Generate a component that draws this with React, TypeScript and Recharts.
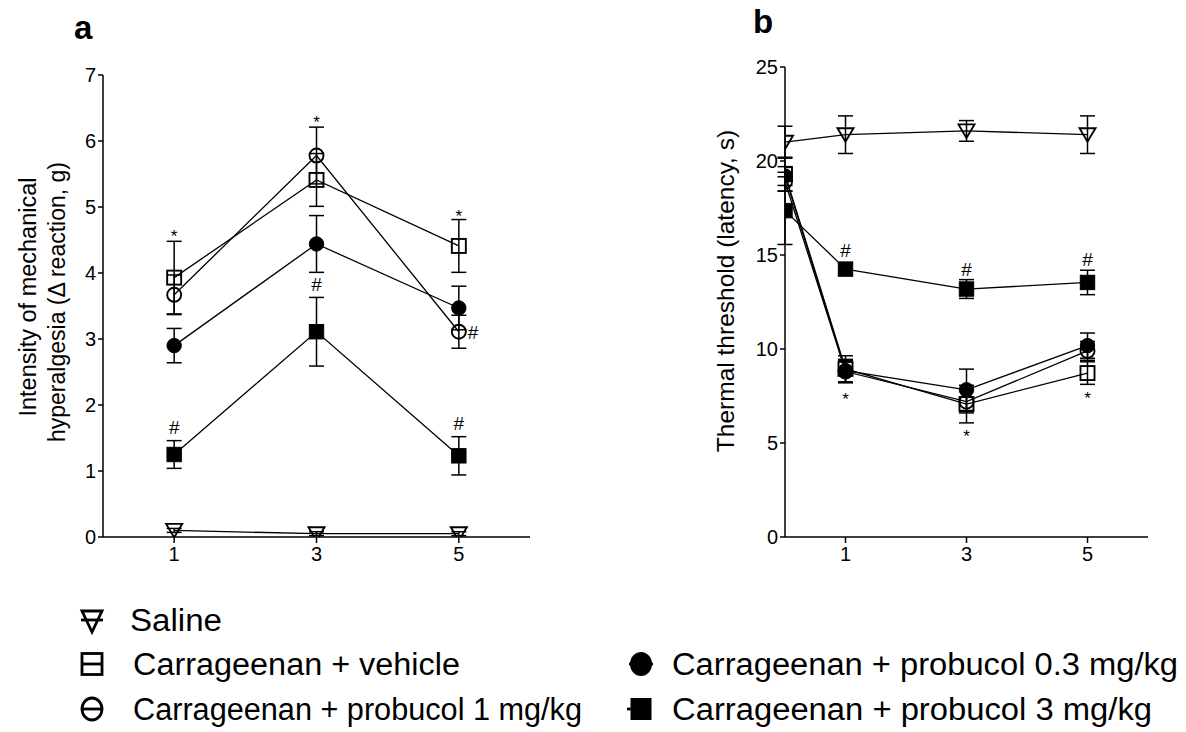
import React from 'react';
import { LineChart, Line, XAxis, YAxis, ErrorBar, ReferenceDot } from 'recharts';

// ---------- Panel a data (mechanical hyperalgesia) ----------
const timesA = [1, 3, 5];
const salineA = [0.1, 0.05, 0.05];
const salineAErr = [0.03, 0.03, 0.03];
const vehicleA = [3.93, 5.41, 4.41];
const vehicleAErr = [0.55, 0.4, 0.4];
const prob1A = [3.67, 5.78, 3.11];
const prob1AErr = [0.3, 0.43, 0.25];
const prob03A = [2.9, 4.44, 3.47];
const prob03AErr = [0.26, 0.43, 0.33];
const prob3A = [1.25, 3.11, 1.23];
const prob3AErr = [0.21, 0.52, 0.29];

// ---------- Panel b data (thermal threshold) ----------
const timesB = [0, 1, 3, 5];
const salineB = [21.0, 21.4, 21.6, 21.4];
const salineBErr = [0.85, 1.0, 0.55, 1.0];
const vehicleB = [19.3, 8.94, 7.07, 8.72];
const vehicleBErr = [0.9, 0.7, 1.0, 0.6];
const prob1B = [18.9, 8.8, 7.2, 9.9];
const prob1BErr = [0.5, 0.6, 0.6, 0.5];
const prob03B = [19.2, 8.85, 7.83, 10.18];
const prob03BErr = [0.5, 0.6, 1.1, 0.67];
const prob3B = [17.36, 14.25, 13.19, 13.54];
const prob3BErr = [1.8, 0.3, 0.5, 0.65];

// ---------- ticks ----------
const xTicks = [1, 3, 5];
const yTicksA = [0, 1, 2, 3, 4, 5, 6, 7];
const yTicksB = [0, 5, 10, 15, 20, 25];

// ---------- significance marks ----------
const marksA = [
  { x: 1, y: 4.63, t: '*' },
  { x: 3, y: 6.36, t: '*' },
  { x: 5, y: 4.93, t: '*' },
  { x: 3, y: 3.83, t: '#' },
  { x: 1, y: 1.66, t: '#' },
  { x: 5, y: 1.72, t: '#' },
  { x: 5.2, y: 3.11, t: '#' },
];
const marksB = [
  { x: 1, y: 15.24, t: '#' },
  { x: 3, y: 14.27, t: '#' },
  { x: 5, y: 14.8, t: '#' },
  { x: 1, y: 7.57, t: '*' },
  { x: 3, y: 5.62, t: '*' },
  { x: 5, y: 7.66, t: '*' },
];

// ---------- legend ----------
const legendLabels = [
  'Saline',
  'Carrageenan + vehicle',
  'Carrageenan + probucol 1 mg/kg',
  'Carrageenan + probucol 0.3 mg/kg',
  'Carrageenan + probucol 3 mg/kg',
];

const FONT = '"Liberation Sans", Arial, Helvetica, sans-serif';

type Kind = 'tri' | 'osq' | 'ocir' | 'fcir' | 'fsq';

function Marker({ kind, cx, cy, s = 1 }: { kind: Kind; cx: number; cy: number; s?: number }) {
  if (cx == null || cy == null || isNaN(cx) || isNaN(cy)) return null;
  const sw = 1.9;
  switch (kind) {
    case 'tri':
      return (
        <polygon
          points={`${cx - 8 * s},${cy - 6.5 * s} ${cx + 8 * s},${cy - 6.5 * s} ${cx},${cy + 7 * s}`}
          fill="none"
          stroke="#000"
          strokeWidth={sw}
        />
      );
    case 'osq':
      return <rect x={cx - 7 * s} y={cy - 7 * s} width={14 * s} height={14 * s} fill="none" stroke="#000" strokeWidth={sw} />;
    case 'ocir':
      return <circle cx={cx} cy={cy} r={7 * s} fill="none" stroke="#000" strokeWidth={sw} />;
    case 'fcir':
      return <circle cx={cx} cy={cy} r={7.2 * s} fill="#000" stroke="#000" strokeWidth={1} />;
    case 'fsq':
      return <rect x={cx - 7.2 * s} y={cy - 7.2 * s} width={14.4 * s} height={14.4 * s} fill="#000" stroke="#000" strokeWidth={1} />;
  }
  return null;
}

const mk = (xs: number[], ys: number[], es: number[]) => xs.map((x, i) => ({ x, y: ys[i], e: es[i] }));

const seriesA: { name: string; kind: Kind; data: any[] }[] = [
  { name: 'saline', kind: 'tri', data: mk(timesA, salineA, salineAErr) },
  { name: 'vehicle', kind: 'osq', data: mk(timesA, vehicleA, vehicleAErr) },
  { name: 'p1', kind: 'ocir', data: mk(timesA, prob1A, prob1AErr) },
  { name: 'p03', kind: 'fcir', data: mk(timesA, prob03A, prob03AErr) },
  { name: 'p3', kind: 'fsq', data: mk(timesA, prob3A, prob3AErr) },
];
const seriesB: { name: string; kind: Kind; data: any[] }[] = [
  { name: 'saline', kind: 'tri', data: mk(timesB, salineB, salineBErr) },
  { name: 'vehicle', kind: 'osq', data: mk(timesB, vehicleB, vehicleBErr) },
  { name: 'p1', kind: 'ocir', data: mk(timesB, prob1B, prob1BErr) },
  { name: 'p03', kind: 'fcir', data: mk(timesB, prob03B, prob03BErr) },
  { name: 'p3', kind: 'fsq', data: mk(timesB, prob3B, prob3BErr) },
];

const tickStyle = { fill: '#000', fontSize: 20, fontFamily: FONT };
const axisStroke = { stroke: '#000', strokeWidth: 1.5 };

function markShape(t: string) {
  return (p: any) => {
    const fs = t === '*' ? 17 : 19;
    const off = t === '*' ? 0.62 * fs : 0.36 * fs;
    return (
      <text x={p.cx} y={p.cy + off} textAnchor="middle" fontSize={fs} fontFamily={FONT} fill="#000">
        {t}
      </text>
    );
  };
}

function Panel({ series, yDomain, yTicks, marks, yAxisWidth, top, plotW, plotH, right }: any) {
  const width = yAxisWidth + plotW + right;
  const height = top + plotH + 43;
  return (
    <LineChart width={width} height={height} margin={{ top, right, left: 0, bottom: 0 }}>
      <XAxis
        dataKey="x"
        type="number"
        domain={[0, 6]}
        ticks={xTicks}
        allowDataOverflow
        height={43}
        tickSize={6}
        tickMargin={4}
        axisLine={axisStroke}
        tickLine={axisStroke}
        tick={tickStyle}
      />
      <YAxis
        type="number"
        domain={yDomain}
        ticks={yTicks}
        allowDataOverflow
        width={yAxisWidth}
        tickSize={5}
        tickMargin={2}
        axisLine={axisStroke}
        tickLine={axisStroke}
        tick={tickStyle}
      />
      {series.map((s: any) => (
        <Line
          key={s.name}
          data={s.data}
          dataKey="y"
          stroke="#000"
          strokeWidth={1.3}
          isAnimationActive={false}
          type="linear"
          activeDot={false}
          dot={(p: any) => <Marker key={`${s.name}-${p.index}`} kind={s.kind} cx={p.cx} cy={p.cy} />}
        >
          <ErrorBar dataKey="e" direction="y" width={7.5} stroke="#000" strokeWidth={1.5} isAnimationActive={false} />
        </Line>
      ))}
      {marks.map((m: any, i: number) => (
        <ReferenceDot key={i} x={m.x} y={m.y} r={1} shape={markShape(m.t)} ifOverflow="visible" />
      ))}
    </LineChart>
  );
}

function LegendSymbol({ kind, cx, cy }: { kind: Kind; cx: number; cy: number }) {
  const sw = 2.8;
  if (kind === 'tri')
    return (
      <g>
        <polygon points={`${cx - 10},${cy - 9} ${cx + 10},${cy - 9} ${cx},${cy + 12}`} fill="none" stroke="#000" strokeWidth={sw} strokeLinejoin="miter" />
        <line x1={cx - 11} y1={cy} x2={cx + 11} y2={cy} stroke="#000" strokeWidth={sw} />
      </g>
    );
  if (kind === 'osq')
    return (
      <g>
        <rect x={cx - 10} y={cy - 10.5} width={20} height={21} fill="none" stroke="#000" strokeWidth={sw} />
        <line x1={cx - 10} y1={cy} x2={cx + 10} y2={cy} stroke="#000" strokeWidth={sw} />
      </g>
    );
  if (kind === 'ocir')
    return (
      <g>
        <ellipse cx={cx} cy={cy} rx={10} ry={11} fill="none" stroke="#000" strokeWidth={sw} />
        <line x1={cx - 10} y1={cy} x2={cx + 10} y2={cy} stroke="#000" strokeWidth={sw} />
      </g>
    );
  if (kind === 'fcir')
    return (
      <g>
        <line x1={cx - 12} y1={cy} x2={cx + 12} y2={cy} stroke="#000" strokeWidth={sw} />
        <ellipse cx={cx} cy={cy} rx={11} ry={12} fill="#000" />
      </g>
    );
  return (
    <g>
      <line x1={cx - 14} y1={cy} x2={cx + 10} y2={cy} stroke="#000" strokeWidth={sw} />
      <rect x={cx - 10.5} y={cy - 11} width={21} height={22} fill="#000" />
    </g>
  );
}

export default function App() {
  const legendFs = 31;
  const legendItems: { kind: Kind; cx: number; cy: number; tx: number; len: number; label: string }[] = [
    { kind: 'tri', cx: 92, cy: 620, tx: 130, len: 92, label: legendLabels[0] },
    { kind: 'osq', cx: 92, cy: 664, tx: 133, len: 327, label: legendLabels[1] },
    { kind: 'ocir', cx: 92, cy: 709, tx: 133, len: 449, label: legendLabels[2] },
    { kind: 'fcir', cx: 641, cy: 664, tx: 672, len: 506, label: legendLabels[3] },
    { kind: 'fsq', cx: 641, cy: 709, tx: 672, len: 480, label: legendLabels[4] },
  ];
  return (
    <div style={{ position: 'absolute', left: 0, top: 0, width: 1186, height: 732, background: '#fff', fontFamily: FONT }}>
      <div style={{ position: 'absolute', left: 0, top: 0 }}>
        <Panel series={seriesA} yDomain={[0, 7]} yTicks={yTicksA} marks={marksA} yAxisWidth={103} top={75} plotW={427} plotH={462} right={30} />
      </div>
      <div style={{ position: 'absolute', left: 690, top: 0 }}>
        <Panel series={seriesB} yDomain={[0, 25]} yTicks={yTicksB} marks={marksB} yAxisWidth={95} top={67} plotW={363} plotH={470} right={20} />
      </div>
      <svg width={1186} height={732} style={{ position: 'absolute', left: 0, top: 0, pointerEvents: 'none' }}>
        <text x={74} y={39} fontSize={33} fontWeight="bold" fontFamily={FONT} fill="#000">a</text>
        <text x={753} y={33} fontSize={33} fontWeight="bold" fontFamily={FONT} fill="#000">b</text>
        <text x={28} y={297} fontSize={23.5} fontFamily={FONT} fill="#000" textAnchor="middle" dominantBaseline="central" transform="rotate(-90 28 297)">
          Intensity of mechanical
        </text>
        <text x={57} y={302} fontSize={23} fontFamily={FONT} fill="#000" textAnchor="middle" dominantBaseline="central" transform="rotate(-90 57 302)">
          hyperalgesia (Δ reaction, g)
        </text>
        <text x={725} y={291} fontSize={24.5} fontFamily={FONT} fill="#000" textAnchor="middle" dominantBaseline="central" transform="rotate(-90 725 291)">
          Thermal threshold (latency, s)
        </text>
        {legendItems.map((it, i) => (
          <g key={i}>
            <LegendSymbol kind={it.kind} cx={it.cx} cy={it.cy} />
            <text
              x={it.tx}
              y={it.cy + 11}
              fontSize={legendFs}
              fontFamily={FONT}
              fill="#000"
              textLength={it.len}
              lengthAdjust="spacingAndGlyphs"
            >
              {it.label}
            </text>
          </g>
        ))}
      </svg>
    </div>
  );
}
